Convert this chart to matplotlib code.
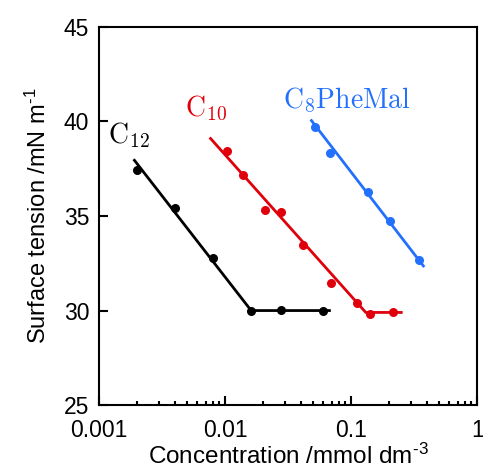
import numpy as np
import matplotlib
matplotlib.use('Agg')
import matplotlib.pyplot as plt

plt.rcParams['font.family'] = ['Liberation Sans', 'DejaVu Sans']
plt.rcParams['mathtext.fontset'] = 'custom'
plt.rcParams['mathtext.rm'] = 'Liberation Sans'
plt.rcParams['mathtext.it'] = 'Liberation Sans'

# measured points (concentration in mmol dm-3, surface tension in mN m-1)
c12_x = [0.002, 0.004, 0.008, 0.016, 0.028, 0.060]
c12_y = [37.45, 35.4, 32.8, 30.0, 30.05, 30.0]
c10_x = [0.0104, 0.0139, 0.0207, 0.0279, 0.0417, 0.0697, 0.112, 0.141, 0.213]
c10_y = [38.45, 37.15, 35.3, 35.2, 33.45, 31.45, 30.4, 29.8, 29.9]
phe_x = [0.0513, 0.068, 0.136, 0.204, 0.347]
phe_y = [39.7, 38.35, 36.25, 34.75, 32.65]

# fitted lines (vertices)
c12_fit_x = [0.00188, 0.0161, 0.069]
c12_fit_y = [38.0, 30.0, 30.0]
c10_fit_x = [0.00754, 0.1306, 0.256]
c10_fit_y = [39.15, 29.9, 29.9]
phe_fit_x = [0.0477, 0.380]
phe_fit_y = [40.1, 32.3]

black = '#000000'
red = '#e0000c'
blue = '#2270fb'

fig = plt.figure(figsize=(4.83, 4.70), dpi=100)
ax = fig.add_axes([0.205, 0.138, 0.783, 0.805])

for fx, fy, px, py, col in [(c12_fit_x, c12_fit_y, c12_x, c12_y, black),
                            (c10_fit_x, c10_fit_y, c10_x, c10_y, red),
                            (phe_fit_x, phe_fit_y, phe_x, phe_y, blue)]:
    ax.plot(fx, fy, color=col, lw=2.0, solid_capstyle='butt')
    ax.plot(px, py, 'o', color=col, ms=6.5, mec='none')

ax.set_xscale('log')
ax.set_xlim(0.001, 1)
ax.set_ylim(25, 45)
ax.set_yticks([25, 30, 35, 40, 45])
ax.set_xticks([0.001, 0.01, 0.1, 1])
ax.set_xticklabels(['0.001', '0.01', '0.1', '1'])

for s in ax.spines.values():
    s.set_linewidth(1.5)
ax.tick_params(which='both', direction='in', width=1.5, labelsize=16.5)
ax.tick_params(which='major', length=6.5)
ax.tick_params(axis='x', which='major', pad=10)
ax.tick_params(axis='y', which='major', pad=7)
ax.tick_params(which='minor', length=3)
ax.tick_params(axis='y', which='minor', left=False)

ax.set_xlabel(r'Concentration /mmol dm$^{\text{-}3}$', fontsize=17.5, labelpad=1)
ax.set_ylabel(r'Surface tension /mN m$^{\text{-}1}$', fontsize=17, labelpad=9)

lbl = dict(fontsize=20, math_fontfamily='cm', ha='center', va='center')
ax.text(0.00173, 39.3, r'$\mathrm{C_{12}}$', color=black, **lbl)
ax.text(0.0071, 40.7, r'$\mathrm{C_{10}}$', color=red, **lbl)
ax.text(0.0934, 41.1, r'$\mathrm{C_{8}PheMal}$', color=blue, **lbl)

fig.savefig('out.png', dpi=100)
